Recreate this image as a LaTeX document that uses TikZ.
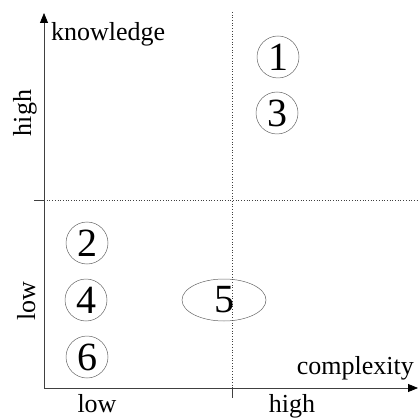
\documentclass[tikz,border=0pt]{standalone}
\usepackage{fontspec}
\setmainfont{Liberation Serif}
\usetikzlibrary{arrows.meta,shapes.geometric}
\begin{document}
\begin{tikzpicture}[x=1pt,y=-1pt,
		lbl/.style={font=\fontsize{26}{30}\selectfont, inner sep=0pt},
		num/.style={circle, draw=black!60, line width=0.5pt, minimum size=42pt, inner sep=0pt, font=\fontsize{40}{44}\selectfont},
		numwide/.style={ellipse, draw=black!60, line width=0.5pt, minimum width=84pt, minimum height=42pt, inner sep=0pt, font=\fontsize{40}{44}\selectfont},
		axis/.style={draw=black!75, line width=0.8pt},
		split/.style={draw=black!75, dotted, line width=0.7pt}]
		\useasboundingbox (0,0) rectangle (419,419);
		% axes
		\coordinate (origin) at (44,388);
		\coordinate (ytip) at (44,13);
		\coordinate (xtip) at (418,388);
		\draw[axis, -{Triangle[length=10pt,width=8pt,color=black]}] (origin) -- (ytip);
		\draw[axis, -{Triangle[length=10pt,width=8pt,color=black]}] (origin) -- (xtip);
		% quadrant borders
		\coordinate (hleft) at (34,200);
		\coordinate (haxis) at (44,200);
		\coordinate (hright) at (419,200);
		\coordinate (vtop) at (232,12);
		\coordinate (vaxis) at (232,388);
		\coordinate (vbot) at (232,398);
		\draw[axis] (hleft) -- (haxis);
		\draw[split] (haxis) -- (hright);
		\draw[split] (vtop) -- (vaxis);
		\draw[axis] (vaxis) -- (vbot);
		% labels
		\node[lbl, anchor=base west] (know) at (51,41) {knowledge};
		\node[lbl, anchor=base east] (compl) at (414,374) {complexity};
		\node[lbl, rotate=90, anchor=base] (khigh) at (31,113) {high};
		\node[lbl, rotate=90, anchor=base] (klow) at (35,301) {low};
		\node[lbl, anchor=base] (clow) at (97,412) {low};
		\node[lbl, anchor=base] (chigh) at (292,412) {high};
		% items
		\node[num] (n1) at (278,57) {1};
		\node[num] (n3) at (277,113) {3};
		\node[num] (n2) at (87,243) {2};
		\node[num] (n4) at (86,300) {4};
		\node[num] (n6) at (87,357) {6};
		\node[numwide] (n5) at (224,300) {5};
	\end{tikzpicture}
\end{document}
